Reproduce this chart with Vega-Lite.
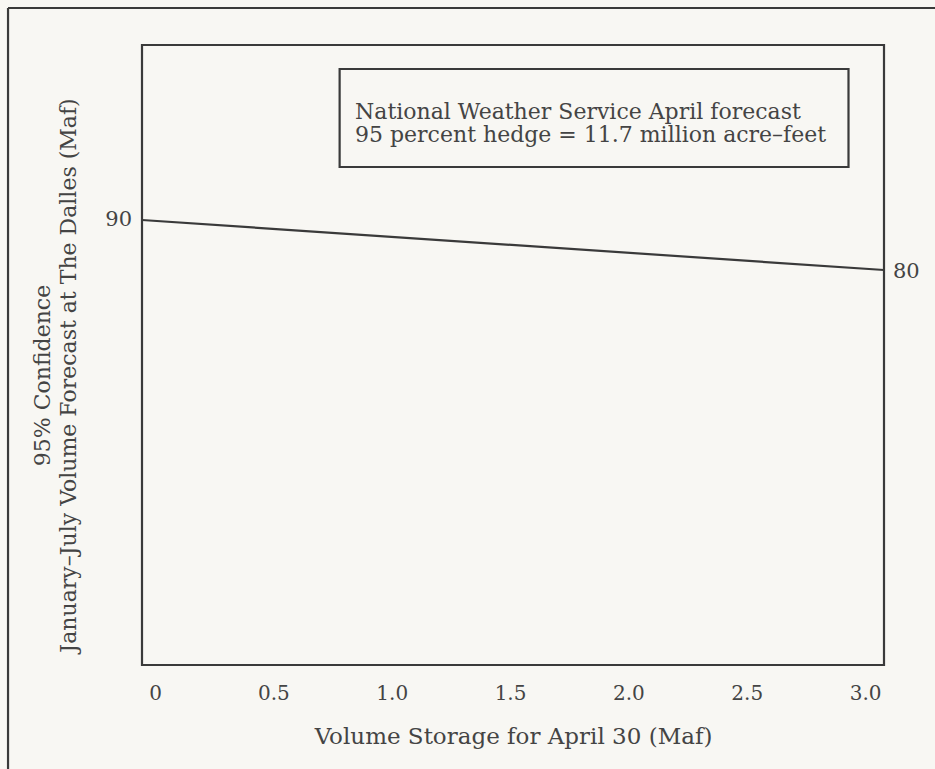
{
  "$schema": "https://vega.github.io/schema/vega-lite/v6.json",
  "width": 742,
  "height": 620,
  "autosize": {"type": "none"},
  "padding": {"left": 142, "top": 45, "right": 51, "bottom": 104},
  "background": "#f8f7f3",
  "config": {
    "view": {"stroke": "#3a3a3a", "strokeWidth": 2.2},
    "font": "DejaVu Serif",
    "axis": {"labelFont": "DejaVu Serif", "titleFont": "DejaVu Serif", "labelColor": "#444", "titleColor": "#444", "titleFontWeight": "normal", "grid": false, "domain": false, "ticks": false}
  },
  "encoding": {
    "x": {
      "field": "x", "type": "quantitative",
      "scale": {"domain": [-0.055, 3.08], "nice": false, "zero": false},
      "axis": {
        "values": [0, 0.5, 1, 1.5, 2, 2.5, 3],
        "labelExpr": "datum.value == 0 ? '0' : format(datum.value, '.1f')",
        "labelFontSize": 20, "labelPadding": 18,
        "title": "Volume Storage for April 30 (Maf)", "titleFontSize": 23, "titlePadding": 22
      }
    },
    "y": {
      "field": "y", "type": "quantitative",
      "scale": {"domain": [1, 125], "nice": false, "zero": false},
      "axis": {
        "labels": false,
        "title": ["95% Confidence", "January–July Volume Forecast at The Dalles (Maf)"],
        "titleFontSize": 22, "titlePadding": 62, "titleLineHeight": 26, "titleY": 330
      }
    }
  },
  "layer": [
    {
      "data": {"values": [
        {"x": -0.621, "x2": 3.4, "y": 132.4, "y2": 132.4},
        {"x": -0.621, "x2": -0.621, "y": 132.4, "y2": -25}
      ]},
      "mark": {"type": "rule", "color": "#3a3a3a", "strokeWidth": 2.2},
      "encoding": {"x2": {"field": "x2"}, "y2": {"field": "y2"}}
    },
    {
      "data": {"values": [{"x": 0.78, "x2": 2.93, "y": 120.2, "y2": 100.6}]},
      "mark": {"type": "rect", "fill": null, "stroke": "#3a3a3a", "strokeWidth": 2.2},
      "encoding": {"x2": {"field": "x2"}, "y2": {"field": "y2"}}
    },
    {
      "data": {"values": [
        {"x": 0.845, "y": 111.6, "label": "National Weather Service April forecast"},
        {"x": 0.845, "y": 107.0, "label": "95 percent hedge = 11.7 million acre–feet"}
      ]},
      "mark": {"type": "text", "align": "left", "baseline": "middle", "fontSize": 22, "color": "#444"},
      "encoding": {"text": {"field": "label"}}
    },
    {
      "data": {"values": [{"x": -0.055, "y": 90}, {"x": 3.08, "y": 80}]},
      "mark": {"type": "line", "color": "#3a3a3a", "strokeWidth": 2.2}
    },
    {
      "data": {"values": [{"x": -0.055, "y": 90, "label": "90"}]},
      "mark": {"type": "text", "align": "right", "baseline": "middle", "dx": -10, "fontSize": 21, "color": "#444"},
      "encoding": {"text": {"field": "label"}}
    },
    {
      "data": {"values": [{"x": 3.08, "y": 80, "label": "80"}]},
      "mark": {"type": "text", "align": "left", "baseline": "middle", "dx": 9, "dy": 2, "fontSize": 21, "color": "#444"},
      "encoding": {"text": {"field": "label"}}
    }
  ]
}
